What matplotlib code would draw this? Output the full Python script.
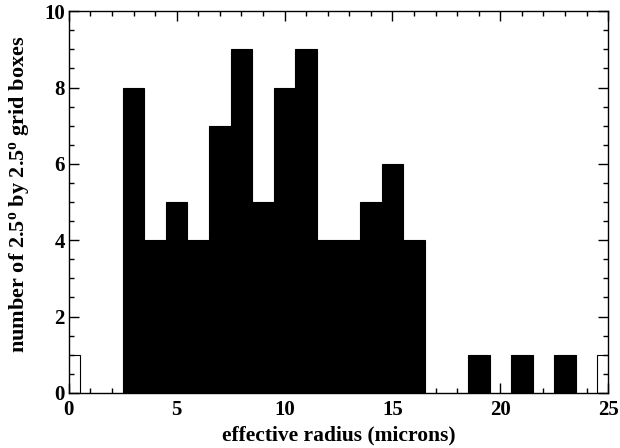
import numpy as np
import matplotlib
matplotlib.use("Agg")
import matplotlib.pyplot as plt
from matplotlib.ticker import MultipleLocator

plt.rcParams["font.family"] = ["Liberation Serif", "DejaVu Serif"]
plt.rcParams["font.weight"] = "bold"
plt.rcParams["mathtext.fontset"] = "custom"
plt.rcParams["mathtext.rm"] = "Liberation Serif:bold"
plt.rcParams["mathtext.it"] = "Liberation Serif:bold"
plt.rcParams["mathtext.bf"] = "Liberation Serif:bold"

# histogram of effective radius, 1-micron bins centred on integers
radius = np.arange(0, 26)
counts = [1, 0, 0, 8, 4, 5, 4, 7, 9, 5, 8, 9, 4, 4, 5, 6, 4, 0, 0, 1, 0, 1, 0, 1, 0, 1]
# end bins are only outlined
hollow = [0, 25]

x_ticks = [0, 5, 10, 15, 20, 25]
y_ticks = [0, 2, 4, 6, 8, 10]

fig = plt.figure(figsize=(6.2, 4.48), dpi=100)
ax = fig.add_axes([0.111, 0.123, 0.870, 0.852])

for r, c in zip(radius, counts):
    if c == 0:
        continue
    face = "white" if r in hollow else "black"
    ax.bar(r, c, width=1.0, color=face, edgecolor="black", linewidth=0.8)

ax.set_xlim(0, 25)
ax.set_ylim(0, 10)
ax.set_xticks(x_ticks)
ax.set_yticks(y_ticks)
ax.xaxis.set_minor_locator(MultipleLocator(1))
ax.yaxis.set_minor_locator(MultipleLocator(0.5))
ax.tick_params(which="both", direction="in", top=True, right=True, width=1.0)
ax.tick_params(which="major", length=7, labelsize=15)
ax.tick_params(axis="x", which="major", pad=5)
ax.tick_params(axis="y", which="major", pad=3)
ax.tick_params(which="minor", length=3.5)
for s in ax.spines.values():
    s.set_linewidth(1.0)

ax.set_xlabel("effective radius (microns)", fontsize=15.5, fontweight="bold", labelpad=4)
ax.set_ylabel(r"number of 2.5$^\mathrm{o}$ by 2.5$^\mathrm{o}$ grid boxes",
              fontsize=16, fontweight="bold", labelpad=10)
ax.yaxis.set_label_coords(-0.07, 0.52)

fig.savefig("out.png", dpi=100)
